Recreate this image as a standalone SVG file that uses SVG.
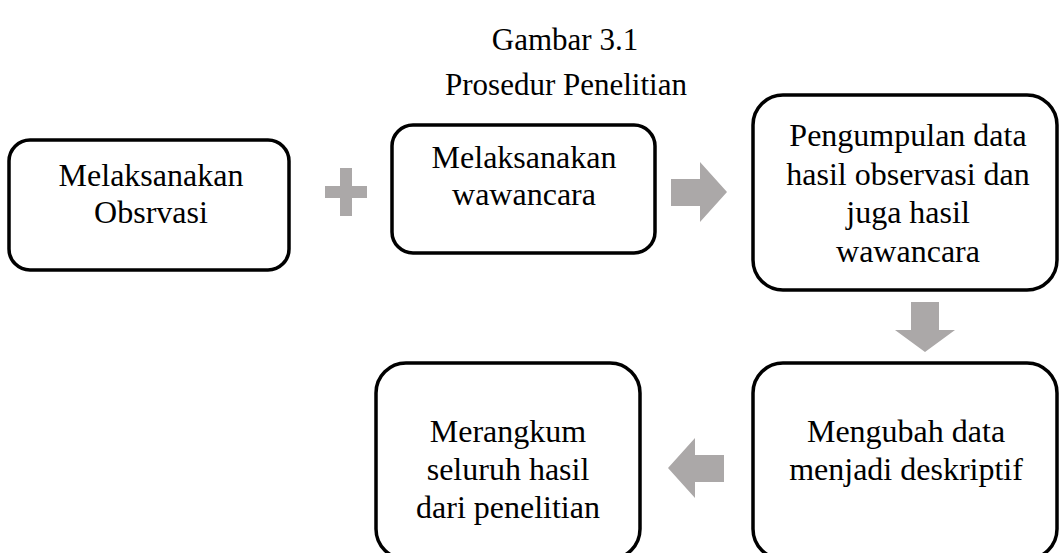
<svg xmlns="http://www.w3.org/2000/svg" width="1060" height="553" viewBox="0 0 1060 553">
  <style>
    .box { fill: #ffffff; stroke: #000000; stroke-width: 3.5; }
    .t { font-family: "Liberation Serif", "Times New Roman", serif; font-size: 32px; fill: #000000; text-anchor: middle; }
    .title { font-family: "Liberation Serif", "Times New Roman", serif; font-size: 31px; fill: #000000; text-anchor: middle; }
    .sym { fill: #ABA8A8; stroke: none; }
  </style>
  <rect width="1060" height="553" fill="#ffffff"/>
  <g id="title">
    <text class="title" x="565" y="50">Gambar 3.1</text>
    <text class="title" x="566" y="95">Prosedur Penelitian</text>
  </g>
  <g id="node1">
    <rect class="box" x="9" y="140" width="280" height="130" rx="21" ry="21"/>
    <text class="t" x="151" y="186">Melaksanakan</text>
    <text class="t" x="151" y="223">Obsrvasi</text>
  </g>
  <g id="node2">
    <rect class="box" x="392" y="125" width="263" height="128" rx="21" ry="21"/>
    <text class="t" x="524" y="168">Melaksanakan</text>
    <text class="t" x="524" y="205">wawancara</text>
  </g>
  <g id="node3">
    <rect class="box" x="753" y="95" width="304" height="195" rx="30" ry="30"/>
    <text class="t" x="908" y="146">Pengumpulan data</text>
    <text class="t" x="908" y="185">hasil observasi dan</text>
    <text class="t" x="908" y="223">juga hasil</text>
    <text class="t" x="908" y="262">wawancara</text>
  </g>
  <g id="node4">
    <rect class="box" x="376" y="363" width="264" height="196" rx="30" ry="30"/>
    <text class="t" x="508" y="442">Merangkum</text>
    <text class="t" x="508" y="480">seluruh hasil</text>
    <text class="t" x="508" y="518">dari penelitian</text>
  </g>
  <g id="node5">
    <rect class="box" x="753" y="363" width="304" height="196" rx="30" ry="30"/>
    <text class="t" x="906" y="442">Mengubah data</text>
    <text class="t" x="906" y="480">menjadi deskriptif</text>
  </g>
  <g id="connectors">
    <path class="sym" d="M340,168 H352 V186 H367 V198 H352 V216 H340 V198 H325 V186 H340 Z"/>
    <path class="sym" d="M671,179 H700 V162 L727,192 L700,222 V206 H671 Z"/>
    <path class="sym" d="M911,302 H939 V330 H955 L925,352 L895,330 H911 Z"/>
    <path class="sym" d="M724,455 H695 V438 L668,468 L695,498 V482 H724 Z"/>
  </g>
</svg>
